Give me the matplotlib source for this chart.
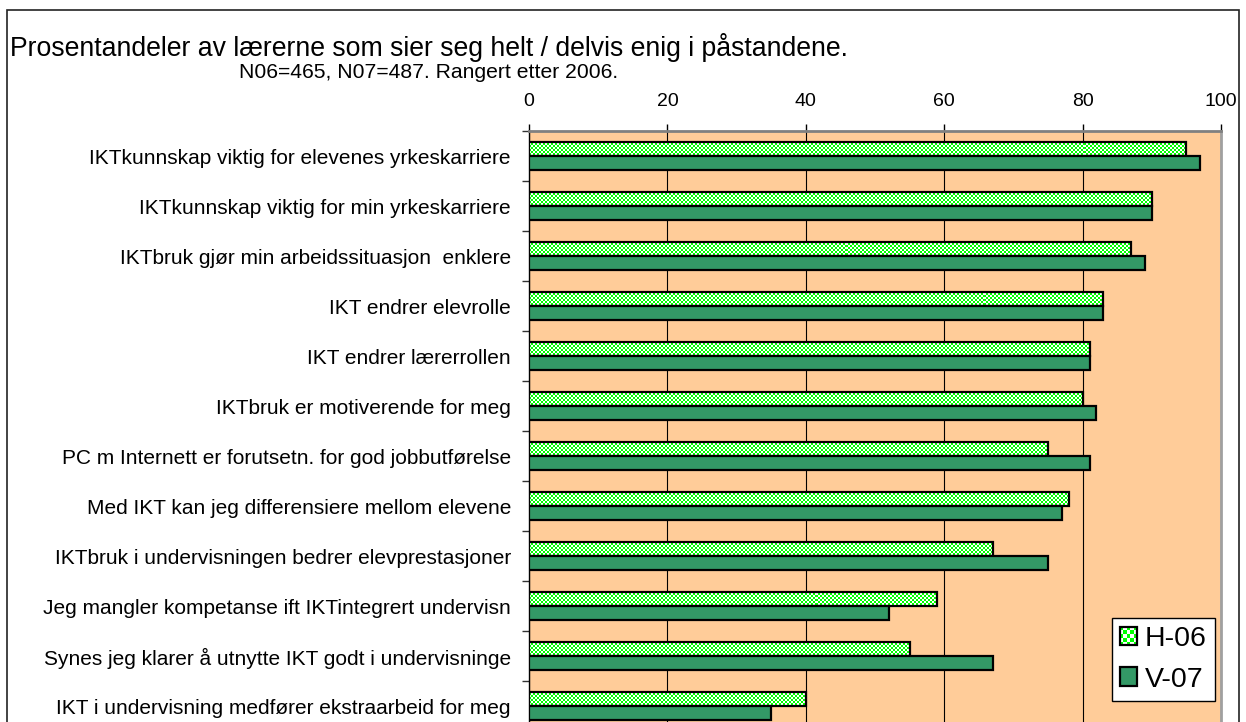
import numpy as np
import matplotlib
matplotlib.use('Agg')
import matplotlib.pyplot as plt
from matplotlib.patches import Rectangle, Patch
from matplotlib.legend_handler import HandlerBase
from matplotlib.colors import ListedColormap

plt.rcParams['font.family'] = ['Liberation Sans', 'DejaVu Sans']

categories = [
    'IKTkunnskap viktig for elevenes yrkeskarriere',
    'IKTkunnskap viktig for min yrkeskarriere',
    'IKTbruk gjør min arbeidssituasjon  enklere',
    'IKT endrer elevrolle',
    'IKT endrer lærerrollen',
    'IKTbruk er motiverende for meg',
    'PC m Internett er forutsetn. for god jobbutførelse',
    'Med IKT kan jeg differensiere mellom elevene',
    'IKTbruk i undervisningen bedrer elevprestasjoner',
    'Jeg mangler kompetanse ift IKTintegrert undervisn',
    'Synes jeg klarer å utnytte IKT godt i undervisninge',
    'IKT i undervisning medfører ekstraarbeid for meg',
]
h06 = [95, 90, 87, 83, 81, 80, 75, 78, 67, 59, 55, 40]
v07 = [97, 90, 89, 83, 81, 82, 81, 77, 75, 52, 67, 35]
series_names = ['H-06', 'V-07']
xticks = [0, 20, 40, 60, 80, 100]

title = 'Prosentandeler av lærerne som sier seg helt / delvis enig i påstandene.'
subtitle = 'N06=465, N07=487. Rangert etter 2006.'

W, H = 1246, 722
fig = plt.figure(figsize=(W / 100, H / 100), dpi=100)
fig.patch.set_facecolor('white')

# outer chart border
fig.patches.append(Rectangle((7 / W, -0.1), (1239 - 7) / W, 1.1 - 10 / H,
                             transform=fig.transFigure, facecolor='none',
                             edgecolor='#222222', linewidth=1.2))

ax = fig.add_axes([529 / W, 1 - 731 / H, 692 / W, 600 / H])
ax.set_facecolor('#FFCC99')

n = len(categories)
y = np.arange(n)
bh = 0.28
off = 0.145

green = '#00FF00'
dark = '#339966'

# H-06 bars: white base, checker texture clipped, black edge on top
base = ax.barh(y - off, h06, height=bh, color='white', edgecolor='none', zorder=2)
rows, cols = 300, 346
checker = np.indices((rows, cols)).sum(0) % 2
cmap = ListedColormap(['white', green])
for rect in base:
    im = ax.imshow(checker, extent=(0, 100, n - 0.5, -0.5), aspect='auto',
                   interpolation='nearest', cmap=cmap, zorder=3)
    im.set_clip_path(rect)
ax.barh(y - off, h06, height=bh, facecolor='none', edgecolor='black',
        linewidth=1.6, zorder=4)
ax.barh(y + off, v07, height=bh, color=dark, edgecolor='black',
        linewidth=1.6, zorder=4)

ax.set_xlim(0, 100)
ax.set_ylim(n - 0.5, -0.5)

# grid
ax.set_axisbelow(True)
ax.xaxis.grid(True, color='black', linewidth=0.8)

# spines
ax.spines['top'].set_color('#808080')
ax.spines['top'].set_linewidth(2)
ax.spines['right'].set_color('#a0a0a0')
ax.spines['right'].set_linewidth(2)
ax.spines['left'].set_color('black')
ax.spines['left'].set_linewidth(1)
ax.spines['bottom'].set_visible(False)

# x axis on top
ax.xaxis.tick_top()
ax.set_xticks(xticks)
ax.set_xticklabels([str(t) for t in xticks])
ax.tick_params(axis='x', which='major', direction='out', length=5, width=1,
               color='black', labelsize=14, pad=10)

# y axis
ax.set_yticks(y)
ax.set_yticklabels(categories)
ax.set_yticks(np.arange(n + 1) - 0.5, minor=True)
ax.tick_params(axis='y', which='major', length=0, pad=13, labelsize=15)
ax.tick_params(axis='y', which='minor', length=5, width=1, direction='out',
               color='#333333')

# titles
fig.text(10 / W, 1 - 48 / H, title, fontsize=19.2, ha='left', va='center')
fig.text(239 / W, 1 - 73 / H, subtitle, fontsize=15.2, ha='left', va='center')


class CheckerHandler(HandlerBase):
    def create_artists(self, legend, orig_handle, xdescent, ydescent, width,
                       height, fontsize, trans):
        x0, y0 = -xdescent, -ydescent
        arts = [Rectangle((x0, y0), width, height, facecolor='white',
                          edgecolor='none', transform=trans)]
        nx, ny = 5, 5
        dx, dy = width / nx, height / ny
        for i in range(nx):
            for j in range(ny):
                if (i + j) % 2 == 0:
                    arts.append(Rectangle((x0 + i * dx, y0 + j * dy), dx, dy,
                                          facecolor=green, edgecolor='none',
                                          transform=trans))
        arts.append(Rectangle((x0, y0), width, height, facecolor='none',
                              edgecolor='black', linewidth=1.6, transform=trans))
        return arts


h_proxy = Rectangle((0, 0), 1, 1)
v_proxy = Patch(facecolor=dark, edgecolor='black', linewidth=1.6)
leg = ax.legend([h_proxy, v_proxy], series_names,
                handler_map={h_proxy: CheckerHandler()},
                loc='upper left', bbox_to_anchor=(1112 / W, 1 - 618 / H),
                bbox_transform=fig.transFigure, fontsize=20.5,
                frameon=True, fancybox=False, framealpha=1,
                edgecolor='black', facecolor='white',
                handlelength=0.6, handleheight=0.63, handletextpad=0.28,
                labelspacing=0.52, borderpad=0.28, borderaxespad=0)
leg.get_frame().set_linewidth(1)
leg.set_zorder(10)

fig.savefig('out.png', dpi=100, facecolor='white')
